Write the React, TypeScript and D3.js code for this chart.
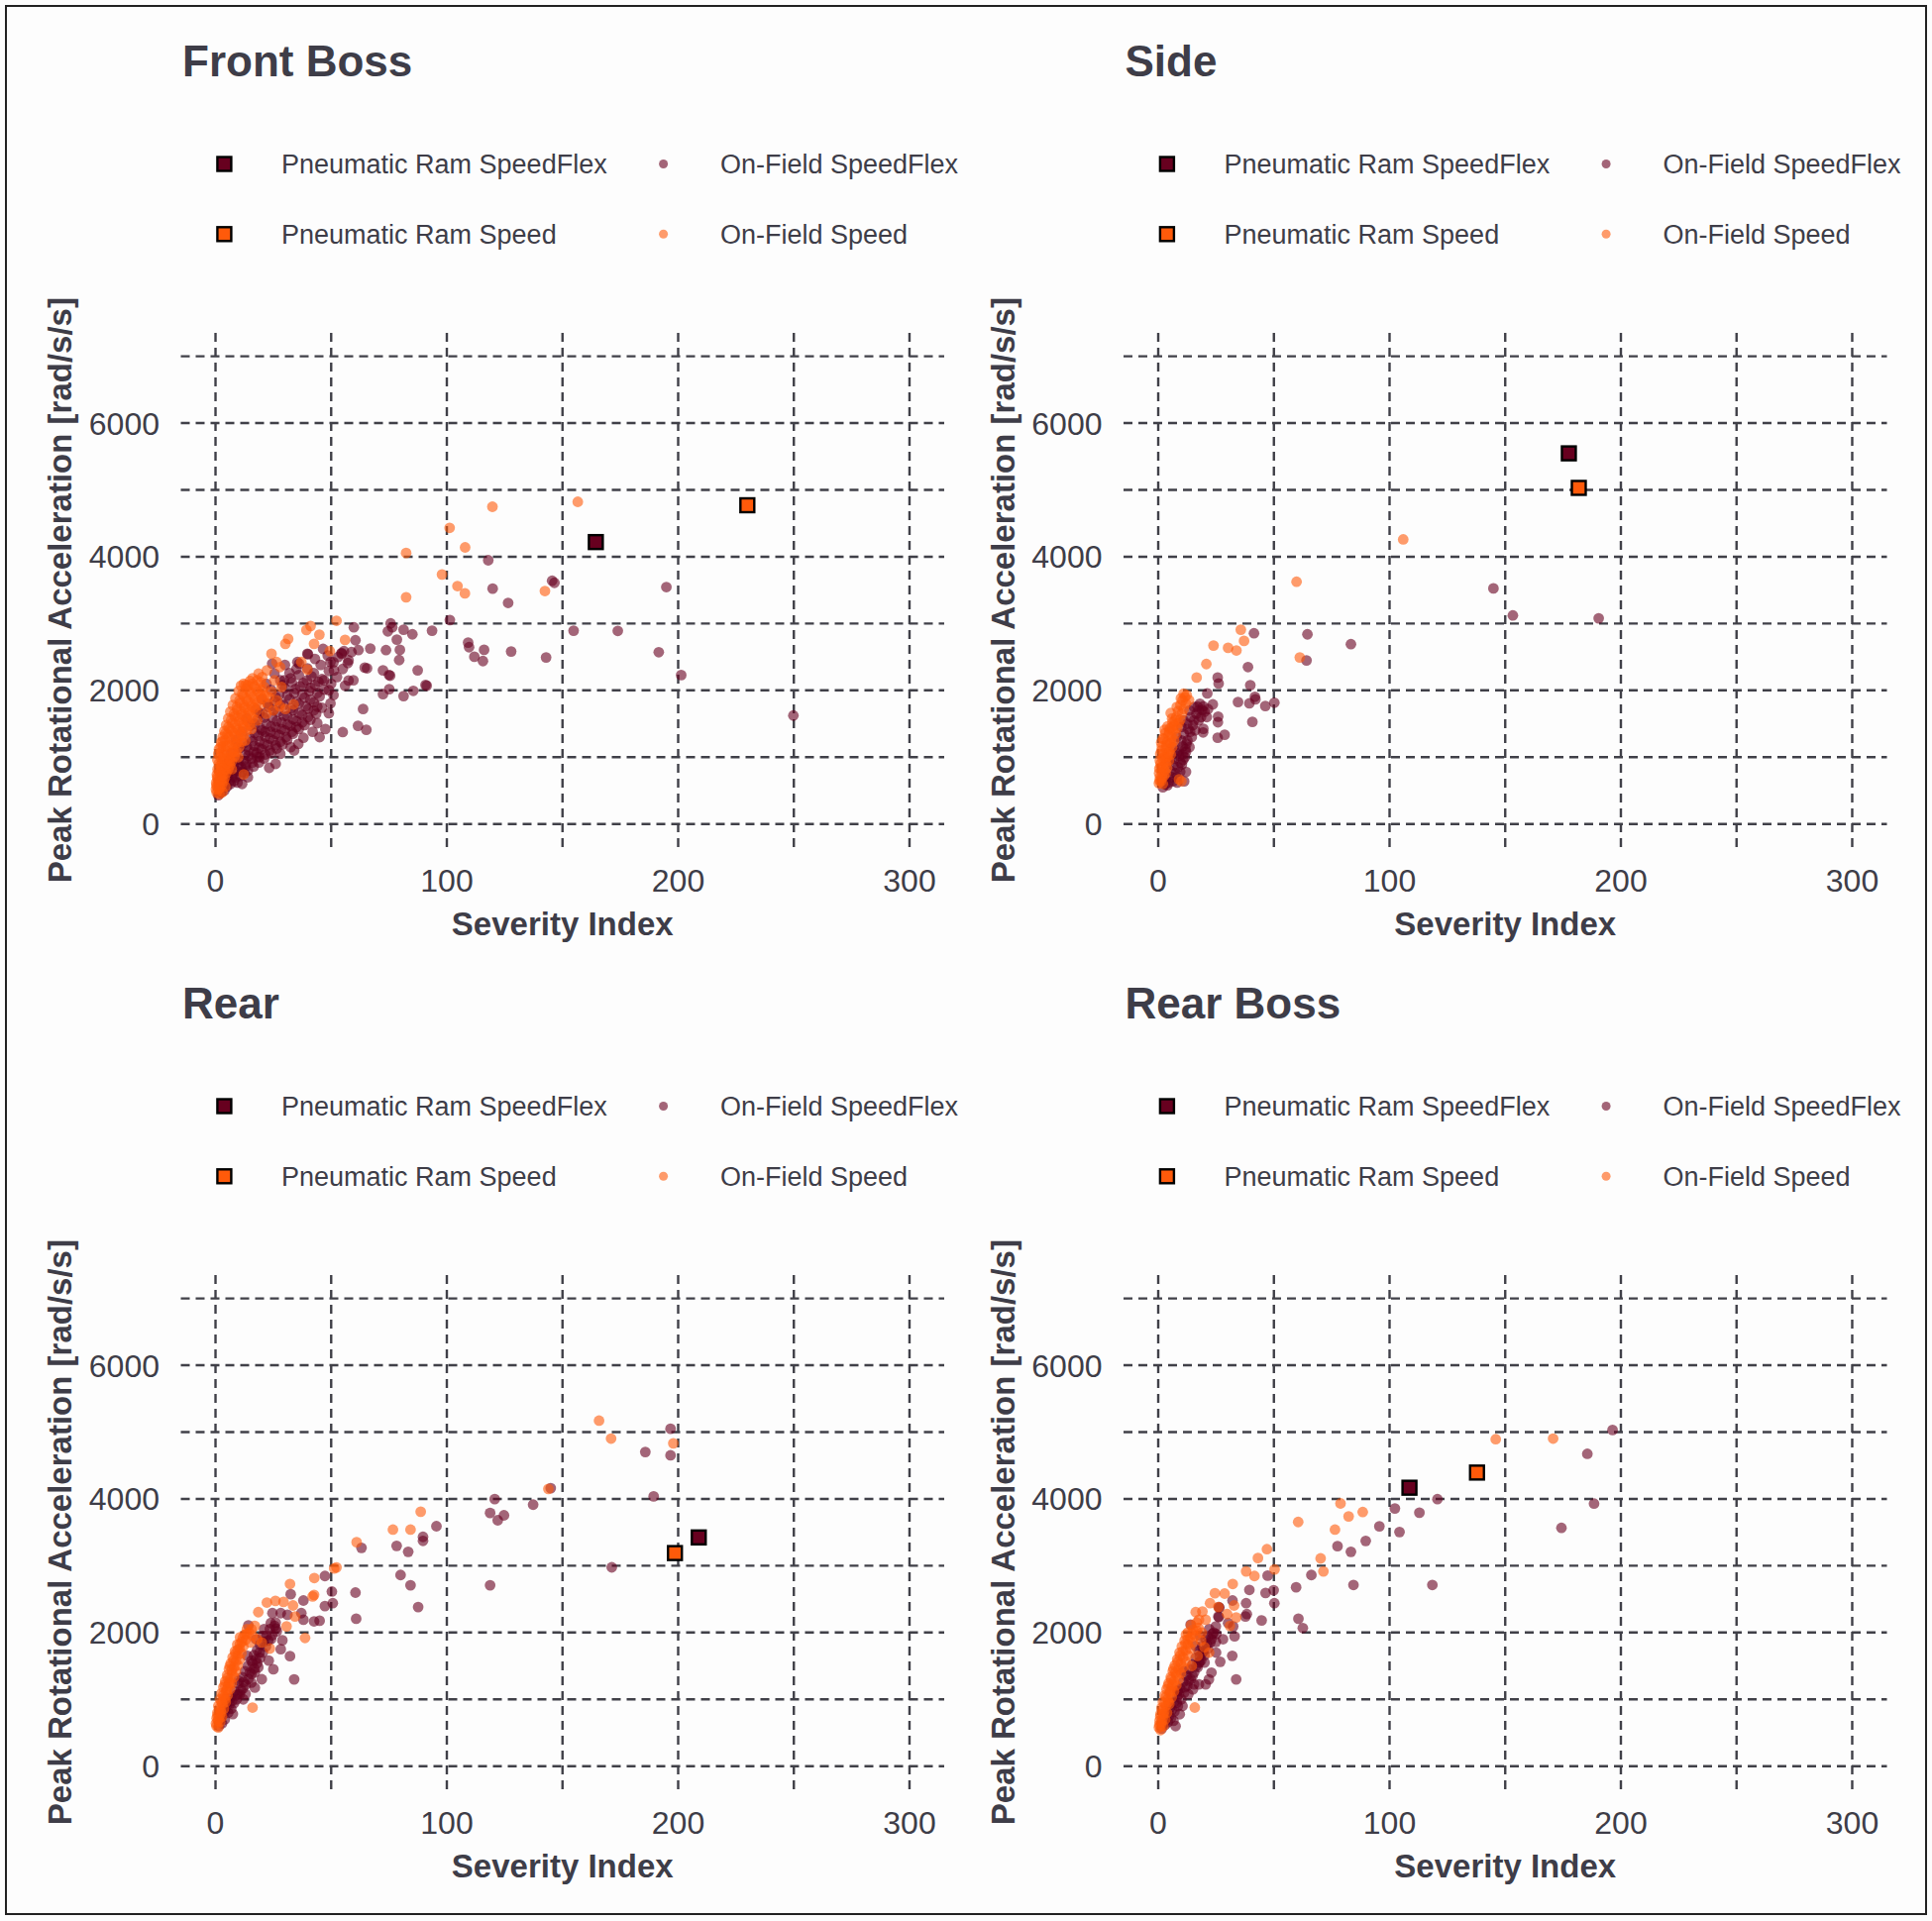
import React from 'react';
import * as d3 from 'd3';

type P = [number, number];

// ---------------- DATA ----------------
const panelTitles = ['Front Boss', 'Side', 'Rear', 'Rear Boss'];
const legendLabels = ['Pneumatic Ram SpeedFlex', 'Pneumatic Ram Speed', 'On-Field SpeedFlex', 'On-Field Speed'];
const xTicks = [0, 100, 200, 300];
const xGrid = [0, 50, 100, 150, 200, 250, 300];
const yTicks = [0, 2000, 4000, 6000];
const yGrid = [0, 1000, 2000, 3000, 4000, 5000, 6000, 7000];
const xLabel = 'Severity Index';
const yLabel = 'Peak Rotational Acceleration [rad/s/s]';

// Pneumatic ram impacts [severity index, peak rotational acceleration]
const ramSpeedFlex: P[] = [[164.4, 4219], [177.5, 5547], [208.9, 3423], [108.6, 4167]];
const ramSpeed: P[] = [[229.9, 4770], [181.8, 5030], [198.6, 3189], [137.8, 4394]];

// Front Boss on-field
const frontBossFlex: P[] = [
  [1.2,430],[2.5,470],[3.8,500],[1.8,540],[5.0,560],[6.5,600],[3.2,620],[8.0,640],[9.5,620],[4.6,680],[7.2,700],[10.8,720],[2.8,730],[12.5,760],[6.0,780],[9.0,800],[14.0,800],[4.2,830],[11.0,850],[16.5,860],[7.8,880],[13.2,900],[18.8,920],[5.5,920],[10.0,960],[15.5,980],[21.0,980],[23.2,841],[8.5,1010],[12.8,1040],[17.8,1060],[24.0,1060],[6.8,1060],[14.5,1100],[20.0,1120],[26.5,1130],[10.5,1140],[16.8,1170],[22.6,1180],[29.0,1190],[32.5,1150],[12.2,1210],[19.0,1240],[25.0,1250],[31.0,1260],[35.8,1197],[8.8,1250],[14.8,1290],[21.5,1310],[27.5,1330],[33.5,1350],[17.0,1360],[23.8,1380],[30.0,1400],[36.0,1420],[11.5,1380],[19.5,1430],[26.0,1450],[32.5,1470],[38.5,1480],[44.0,1508],[15.0,1470],[22.0,1500],[28.5,1520],[35.0,1540],[41.0,1560],[18.0,1560],[24.5,1590],[31.0,1610],[37.5,1630],[43.5,1650],[49.0,1657],[13.5,1580],[20.5,1650],[27.0,1680],[33.5,1700],[40.0,1720],[46.0,1740],[23.0,1750],[29.5,1780],[36.0,1800],[42.5,1820],[17.5,1720],[25.5,1840],[32.0,1870],[38.5,1890],[45.0,1910],[51.0,1930],[20.0,1870],[27.5,1930],[34.0,1960],[40.5,1990],[47.0,2010],[30.0,2030],[36.5,2060],[43.0,2080],[50.0,2100],[56.0,2070],[24.0,2010],[33.0,2120],[39.5,2150],[46.0,2170],[52.5,2200],[28.0,2150],[36.0,2230],[42.5,2260],[49.0,2290],[55.0,2320],[32.0,2260],[39.7,2330],[45.5,2380],[51.0,2420],[57.5,2450],[36.2,2400],[43.0,2470],[48.5,2520],[54.5,2560],[40.0,2540],[46.5,2620],[29.7,2150],[35.4,2424],[39.7,2547],[19.0,1000],[26.0,900],[14.0,700],[28.0,1050],[34.0,1100],[38.0,1290],[42.0,1380],[47.5,1420],[45.0,1300],[20.0,1400],[9.5,1150],[6.0,900],[11.5,600],
  [2.0,480],[3.5,550],[6.0,640],[8.8,700],[5.2,720],[11.5,780],[7.5,760],[13.0,860],[9.8,880],[16.0,920],[12.0,940],[18.0,1000],[14.2,1020],[21.5,1040],[16.5,1080],[23.5,1100],[18.8,1140],[26.0,1180],[13.5,1160],[21.0,1200],[28.0,1230],[16.0,1240],[23.5,1280],[30.5,1300],[18.5,1320],[26.0,1350],[33.0,1380],[21.5,1380],[28.5,1420],[35.0,1450],[24.0,1460],[31.0,1490],[37.5,1520],[17.0,1500],[26.5,1540],[33.5,1570],[40.0,1600],[21.0,1590],[29.5,1620],[36.0,1660],[42.5,1700],[25.0,1700],[32.5,1730],[39.0,1760],[19.0,1660],[28.0,1800],[35.0,1830],[41.0,1860],[22.5,1800],[31.0,1920],[37.5,1940],[44.0,1960],[26.0,1900],[34.5,2020],[41.0,2040],[29.0,2080],[38.0,2110],[44.5,2130],[32.5,2180],[41.5,2210],[35.0,2320],[30.0,2380],[25.5,2250],[22.0,2100],[24.5,2400],
  [54.5,2547],[55.5,2587],[57.2,2409],[58.8,2572],[49.7,2424],[51.2,2300],[46.9,2152],[49.0,2003],[49.7,1805],[44.0,1756],[53.0,2500],[60.5,2750],
  [117.9,3947],[119.8,3522],[126.5,3309],[145.5,3640],[146.5,3610],[154.8,2893],[101.3,3052],[109.2,2715],[109.6,2646],[116.1,2606],[127.8,2582],[111.9,2503],[115.6,2438],[142.9,2493],[93.6,2893],[85.1,2839],[81.3,2908],[75.7,3002],[74.5,2883],[76.4,2943],[78.4,2760],[79.7,2606],[79.4,2453],[73.7,2602],[66.9,2626],[59.8,2943],[61.8,2602],[64.5,2340],[65.5,2330],[72.4,2300],[75.0,2230],[75.5,2220],[87.4,2300],[75.1,2018],[72.4,1944],[81.3,1914],[85.5,1993],[90.8,2080],[91.3,2070],[63.8,1721],[61.6,1469],[65.2,1410],[55.0,1375],[57.5,2147],[59.6,2152],[194.9,3546],[173.9,2890],[191.6,2571],[201.3,2228],[249.8,1623]
];
const frontBossSpeed: P[] = [
  [0.5,470],[1.2,520],[0.8,560],[2.0,540],[1.5,600],[0.3,620],[2.8,590],[3.5,640],[1.0,680],[2.2,700],[4.0,690],[0.6,740],[1.8,760],[3.2,780],[4.6,760],[5.5,820],[0.9,820],[2.5,850],[3.9,870],[6.2,880],[1.4,900],[7.0,940],[2.9,930],[4.8,950],[0.8,960],[5.9,990],[8.2,1010],[1.9,1010],[3.6,1030],[6.8,1060],[9.0,1080],[2.6,1080],[4.5,1100],[7.6,1130],[10.2,1150],[1.5,1120],[3.3,1160],[5.7,1180],[8.8,1200],[11.3,1230],[2.4,1220],[4.2,1250],[6.6,1270],[9.7,1290],[12.0,1320],[3.1,1300],[5.2,1340],[7.9,1360],[10.6,1380],[13.5,1400],[3.8,1390],[6.1,1420],[9.0,1440],[11.8,1470],[14.8,1490],[4.6,1480],[7.2,1510],[10.1,1540],[13.0,1560],[16.0,1580],[5.5,1580],[8.3,1610],[11.2,1640],[14.2,1660],[17.5,1690],[6.4,1680],[9.4,1710],[12.5,1740],[15.6,1760],[19.0,1780],[7.5,1780],[10.6,1810],[13.8,1840],[17.0,1860],[20.5,1880],[8.6,1880],[12.0,1920],[15.2,1950],[18.4,1980],[10.0,1990],[13.4,2030],[16.8,2060],[20.0,2010],[12.2,2100],[14.9,2140],[11.0,2070],[22.5,1800],[25.0,1700],[27.8,1760],[30.2,1720],[33.8,1790],[21.3,1920],[24.2,1980],[19.6,2120],[22.0,1650],[18.0,1550],[15.5,1420],[12.8,1250],[9.8,1000],[7.0,820],[4.2,560],[3.0,480],[1.7,450],[0.2,520],
  [0.4,580],[1.1,640],[2.6,660],[0.7,700],[3.0,720],[1.5,800],[4.2,820],[2.1,880],[5.0,900],[3.4,980],[6.3,950],[1.2,1050],[5.2,1040],[7.8,1080],[2.2,1150],[4.8,1170],[7.2,1200],[9.5,1220],[3.0,1240],[5.8,1300],[8.4,1320],[11.0,1340],[4.2,1350],[7.0,1400],[9.8,1410],[12.6,1450],[5.6,1450],[8.6,1500],[11.4,1520],[14.0,1540],[6.8,1560],[9.8,1600],[12.8,1620],[15.2,1640],[8.0,1650],[11.0,1690],[14.0,1720],[16.8,1740],[9.2,1750],[12.2,1780],[15.0,1810],[18.2,1830],[10.4,1850],[13.2,1880],[16.4,1910],[19.5,1930],[11.6,1950],[14.6,1990],[17.6,2020],[13.0,2080],[16.0,2100],[18.0,2150],[21.0,2050],[23.0,1900],[26.5,1850],
  [20.2,2200],[18.6,2250],[25.5,2150],[28.5,2050],[16.0,2180],
  [52.3,3042],[41.1,2963],[39.3,2903],[44.9,2834],[42.6,2696],[31.4,2770],[30.2,2696],[56.0,2755],[49.4,2587],[24.2,2547],[26.4,2424],[27.9,2349],[37.1,2424],[39.7,2310],[22.2,2300],[13.9,2077],[12.2,742],[82.4,4056],[82.4,3393],[97.9,3734],[101.2,4432],[107.9,4140],[104.6,3561],[107.8,3452],[119.7,4748],[156.6,4822],[142.4,3487]
];

// Side on-field
const sideFlex: P[] = [
  [144.9,3526],[153.3,3121],[83.3,2691],[190.4,3078],[41.4,2854],[64.5,2839],[64.1,2448],[38.8,2349],[25.7,2191],[26.1,2102],[39.8,2077],[21.2,1954],[41.8,1904],[42.0,1865],[34.5,1825],[39.4,1805],[46.3,1766],[50.2,1815],[17.0,1756],[19.0,1706],[23.6,1790],[25.9,1607],[25.8,1523],[40.7,1528],[19.5,1424],[19.4,1370],[25.7,1291],[28.7,1335],
  [10.5,1162],[10.5,1039],[10.2,890],[11.2,638],[3.0,593],[2.0,550],[4.5,620],[6.0,700],[7.5,760],[5.2,800],[8.5,850],[9.6,920],[7.0,980],[11.5,1000],[12.0,1080],[9.0,1100],[13.5,1150],[12.6,1250],[14.5,1300],[11.0,1350],[16.0,1400],[15.0,1480],[17.5,1550],[18.5,1600],[16.5,1650],[20.0,1680],[14.0,1600],[12.5,1500],[10.0,1450],[8.0,1300],[6.5,1150],[5.0,950],[3.5,700],[9.0,1020],[11.8,1120],[13.0,1420],[21.5,1720],[18.0,1800],[15.5,1750],[8.2,620],[12.0,780],
  [4.0,580],[6.5,640],[8.0,700],[9.5,780],[6.5,880],[10.8,960],[8.0,1060],[12.2,1200],[10.0,1250],[13.8,1380],[15.5,1550],[17.5,1700],[19.5,1760],[21.0,1600],[13.5,1700],[11.0,1550]
];
const sideSpeed: P[] = [
  [0.3,610],[1.2,640],[2.0,600],[0.8,700],[2.5,720],[1.5,780],[3.2,760],[0.5,830],[2.2,860],[3.8,840],[1.0,900],[3.0,930],[4.6,950],[1.8,980],[4.0,1010],[5.4,1040],[2.5,1060],[0.9,1050],[4.8,1100],[3.3,1130],[6.0,1150],[1.6,1160],[5.2,1200],[3.9,1230],[6.8,1250],[2.4,1270],[5.8,1300],[4.4,1330],[7.5,1350],[3.0,1360],[6.5,1400],[5.0,1430],[8.2,1440],[7.0,1480],[4.0,1460],[8.8,1510],[6.2,1520],[9.5,1560],[7.8,1600],[10.2,1650],[8.6,1690],[11.0,1720],[9.6,1780],[12.0,1800],[10.5,1850],[11.5,1900],[6.0,1580],[3.6,1000],[1.3,1220],[2.8,1410],
  [0.6,650],[1.6,690],[0.4,760],[2.8,800],[1.2,850],[3.4,900],[0.7,950],[2.4,1000],[4.4,1060],[1.4,1100],[3.6,1180],[5.6,1220],[2.0,1280],[4.8,1380],[6.0,1450],[7.2,1550],[8.0,1750],[9.8,1880],[11.0,1950],[5.4,1660],
  [105.9,4259],[59.8,3625],[35.7,2908],[37.1,2740],[23.9,2671],[30.2,2636],[33.8,2597],[61.2,2493],[20.8,2394],[16.6,2191],[12.3,1929],[13.3,1855],[9.0,668],[10.0,640]
];

// Rear on-field
const rearFlex: P[] = [
  [196.7,5049],[185.8,4702],[196.7,4652],[144.9,4161],[137.3,3914],[120.7,3997],[118.7,3789],[122.0,3680],[124.7,3754],[189.4,4037],[171.3,2976],[118.7,2708],[95.5,3591],[89.7,3432],[89.7,3372],[83.3,3208],[78.3,3297],[80.0,2861],[84.3,2708],[87.6,2381],[63.1,3267],[47.3,2846],[50.3,2613],[50.7,2439],[60.5,2598],[60.8,2206],[32.5,2573],[38.0,2479],[37.1,2290],[38.0,2191],[42.6,2167],[45.0,2177],[47.3,2395],[31.1,2266],[28.2,2290],[24.6,2290],[14.2,2107],[23.9,2142],[26.1,2058],[26.5,2018],[28.9,1884],[28.2,1750],[32.2,1646],[34.0,1299],[17.0,1175],[9.6,1076],
  [1.5,600],[2.8,640],[4.0,700],[3.0,760],[5.5,800],[6.8,860],[4.8,900],[8.0,940],[9.2,1000],[6.5,1020],[10.5,1080],[8.2,1120],[11.8,1160],[13.0,1220],[9.8,1240],[14.2,1300],[11.5,1330],[15.5,1380],[12.8,1420],[16.8,1460],[14.0,1500],[18.0,1540],[15.5,1580],[19.2,1620],[16.6,1660],[20.5,1700],[18.0,1740],[21.8,1790],[19.2,1820],[22.8,1880],[17.5,1900],[20.5,1950],[24.5,1960],[21.0,2050],[25.5,2100],[12.0,1000],[7.5,780],[10.0,1280],[13.8,1650],[23.0,1580],[25.0,1450],[20.0,1300],[17.0,1400],[24.0,1900],[26.0,2150],
  [2.2,700],[4.0,820],[6.0,920],[7.2,980],[9.0,1060],[11.0,1140],[12.2,1260],[14.8,1400],[16.0,1540],[17.5,1600],[19.0,1700],[20.8,1860],[22.0,1950],[23.5,2050],[18.5,1480],[15.5,1250],[13.0,1080]
];
const rearSpeed: P[] = [
  [0.2,640],[1.0,680],[2.0,660],[0.5,720],[1.8,760],[2.8,740],[0.8,800],[2.2,840],[3.6,860],[1.2,900],[3.0,930],[4.4,960],[1.9,1000],[3.8,1030],[5.2,1060],[2.6,1090],[4.6,1120],[6.2,1150],[3.4,1180],[5.5,1210],[7.0,1240],[4.2,1270],[6.3,1300],[8.0,1330],[5.0,1360],[7.2,1390],[8.8,1420],[5.8,1450],[8.0,1480],[9.6,1510],[6.6,1540],[8.8,1570],[10.5,1600],[7.4,1630],[9.6,1660],[11.2,1690],[8.4,1720],[10.4,1760],[12.0,1790],[9.4,1820],[11.4,1860],[13.0,1890],[10.6,1930],[12.6,1970],[14.5,2000],[13.6,2050],[16.0,1950],[18.0,1900],[15.0,1850],[20.0,1850],[23.5,1760],[1.2,580],
  [0.4,600],[1.4,700],[0.9,760],[2.4,800],[1.6,860],[2.6,960],[4.2,1000],[3.2,1060],[5.0,1150],[4.0,1220],[6.0,1250],[5.2,1320],[7.0,1440],[6.2,1500],[7.8,1580],[8.6,1680],[9.6,1740],[10.6,1830],[11.8,1920],[13.5,1980],[15.5,2050],[17.0,2100],
  [165.8,5171],[171.0,4903],[197.9,4832],[143.9,4150],[88.7,3808],[76.7,3540],[84.3,3540],[61.0,3352],[51.3,2960],[52.3,2975],[42.7,2816],[32.2,2727],[42.6,2563],[42.0,2540],[22.2,2449],[25.9,2474],[29.4,2459],[18.5,2305],[33.5,2405],[34.4,2241],[30.7,2092],[38.7,1919],[16.0,877]
];

// Rear Boss on-field
const rearBossFlex: P[] = [
  [196.4,5031],[185.5,4674],[188.4,3929],[174.3,3566],[120.7,3996],[102.3,3857],[112.9,3793],[104.3,3505],[95.6,3590],[89.7,3371],[83.3,3208],[77.5,3292],[66.2,2861],[59.6,2677],[84.4,2712],[118.5,2712],[47.3,2851],[49.9,2633],[50.2,2439],[46.4,2593],[44.7,2181],[60.6,2206],[62.5,2067],[39.4,2638],[38.0,2439],[38.3,2276],[37.7,2241],[32.1,2479],[26.2,2380],[26.4,2370],[26.2,2231],[26.0,2240],[30.2,2142],[32.4,2092],[33.0,1944],[24.9,2092],[25.1,1978],[24.9,1859],[21.5,1944],[32.0,1651],[26.8,1562],[33.7,1299],[14.0,2117],[17.6,1547],[17.8,1560],[19.1,1696],[21.9,1299],[20.5,1225],[17.6,1225],[15.5,1225],[13.0,1076],[9.3,778],[6.6,679],[8.3,1130],[8.5,1120],
  [1.5,560],[3.0,620],[4.2,660],[5.5,720],[3.5,780],[7.0,820],[5.2,880],[8.5,900],[6.8,960],[10.0,1000],[8.2,1040],[11.2,1100],[9.5,1160],[12.5,1200],[10.8,1260],[14.0,1300],[12.2,1350],[15.5,1400],[13.5,1450],[17.0,1480],[14.8,1520],[18.5,1580],[16.2,1620],[20.0,1660],[17.5,1720],[21.5,1760],[19.0,1800],[22.5,1850],[20.5,1900],[23.5,1980],[22.0,2050],[18.0,1950],[11.0,1420],[16.0,1800],[25.0,1700],[28.0,1900],[23.0,1400],[10.5,900],[7.5,600],
  [2.5,640],[4.8,760],[6.0,850],[8.0,950],[9.0,1080],[11.5,1180],[13.2,1280],[14.8,1350],[16.5,1500],[18.0,1650],[19.5,1720],[21.0,1820],[23.0,1900],[24.0,2000],[20.0,1550],[15.0,1150]
];
const rearBossSpeed: P[] = [
  [0.3,580],[1.2,620],[2.2,600],[0.6,680],[1.9,720],[3.0,700],[1.0,780],[2.6,820],[3.8,800],[1.4,870],[3.2,900],[4.8,930],[2.0,960],[4.0,1000],[5.8,1030],[2.8,1060],[4.9,1090],[6.8,1120],[3.6,1150],[5.8,1180],[7.8,1210],[4.5,1240],[6.8,1270],[8.8,1300],[5.4,1330],[7.8,1360],[9.8,1390],[6.3,1420],[8.8,1450],[10.8,1480],[7.2,1510],[9.8,1540],[11.8,1570],[8.2,1600],[10.8,1630],[12.8,1660],[9.2,1700],[11.8,1730],[13.8,1760],[10.2,1790],[12.8,1820],[14.8,1850],[11.4,1880],[13.8,1920],[16.0,1950],[12.8,2000],[15.0,2040],[17.4,2070],[14.2,2110],[16.6,2150],[18.5,1880],[20.0,1780],[22.0,1700],[17.0,1650],[14.5,1500],[1.0,540],
  [0.5,620],[1.5,660],[0.9,740],[2.2,780],[1.8,840],[2.8,940],[4.4,960],[3.4,1040],[5.2,1120],[4.2,1200],[6.2,1220],[5.6,1300],[7.4,1400],[6.6,1460],[8.4,1560],[9.4,1650],[10.6,1720],[11.8,1830],[12.8,1900],[14.8,1980],[16.6,2030],[18.8,2000],
  [145.9,4893],[170.7,4903],[78.8,3932],[82.3,3738],[88.4,3803],[60.5,3654],[76.4,3540],[47.0,3247],[43.1,3114],[70.2,3109],[71.4,2915],[50.3,2945],[38.0,2915],[41.6,2846],[32.2,2727],[24.5,2588],[28.7,2583],[22.4,2439],[32.8,2405],[33.7,2226],[29.8,2276],[16.2,2305],[19.1,2315],[17.6,2191],[20.5,2191],[12.0,1968],[15.8,878],[26.0,2380],[31.0,2100]
];

const flexSets = [frontBossFlex, sideFlex, rearFlex, rearBossFlex];
const speedSets = [frontBossSpeed, sideSpeed, rearSpeed, rearBossSpeed];

// ---------------- STYLE ----------------
const W = 1950, H = 1939;
const COL_OFF = 951.5, ROW_OFF = 951;
const MAROON = '#67001f';
const ORANGE = '#ff5a0a';
const TEXT = '#3e3d48';
const GRID = '#404048';
const FONT = '"Liberation Sans", Arial, Helvetica, sans-serif';
const PT_R = 5.4;
const PT_OP = 0.6;
const SQ = 14;

const x = d3.scaleLinear().domain([-15, 315]).range([182.5, 953]);
const y = d3.scaleLinear().domain([-350, 7350]).range([855.3, 336]);

function Square({ cx, cy, fill }: { cx: number; cy: number; fill: string }) {
  return <rect x={cx - SQ / 2} y={cy - SQ / 2} width={SQ} height={SQ} fill={fill} stroke="#000" strokeWidth={2.4} />;
}

function Panel({ idx }: { idx: number }) {
  const col = idx % 2, row = Math.floor(idx / 2);
  const flex = flexSets[idx], speed = speedSets[idx];
  const [x0, x1] = x.range();
  const [yb, yt] = y.range();
  return (
    <g transform={`translate(${col * COL_OFF},${row * ROW_OFF})`}>
      <text x={184} y={77} fontSize={44} fontWeight="bold" fill={TEXT}>{panelTitles[idx]}</text>
      {/* legend */}
      <g fontSize={27} fill={TEXT}>
        <Square cx={226.4} cy={165.5} fill={MAROON} />
        <text x={284} y={165.5} dy="0.36em">{legendLabels[0]}</text>
        <Square cx={226.4} cy={236.3} fill={ORANGE} />
        <text x={284} y={236.3} dy="0.36em">{legendLabels[1]}</text>
        <circle cx={669.6} cy={165.5} r={4.5} fill={MAROON} fillOpacity={PT_OP} />
        <text x={727} y={165.5} dy="0.36em">{legendLabels[2]}</text>
        <circle cx={669.6} cy={236.3} r={4.5} fill={ORANGE} fillOpacity={PT_OP} />
        <text x={727} y={236.3} dy="0.36em">{legendLabels[3]}</text>
      </g>
      {/* grid */}
      <g stroke={GRID} strokeWidth={2.4} strokeDasharray="9 6" fill="none">
        {yGrid.map(v => <line key={'h' + v} x1={x0} x2={x1} y1={y(v)} y2={y(v)} />)}
        {xGrid.map(v => <line key={'v' + v} x1={x(v)} x2={x(v)} y1={yt} y2={yb} />)}
      </g>
      {/* tick labels */}
      <g fontSize={32} fill={TEXT}>
        {yTicks.map(v => <text key={'yt' + v} x={161} y={y(v)} dy="0.36em" textAnchor="end">{v}</text>)}
        {xTicks.map(v => <text key={'xt' + v} x={x(v)} y={900} textAnchor="middle">{v}</text>)}
      </g>
      <text x={(x0 + x1) / 2} y={944} fontSize={33} fontWeight="bold" fill={TEXT} textAnchor="middle">{xLabel}</text>
      <text transform={`translate(72,${(yb + yt) / 2}) rotate(-90)`} fontSize={33} fontWeight="bold" fill={TEXT} textAnchor="middle">{yLabel}</text>
      {/* points */}
      <g fill={MAROON} fillOpacity={PT_OP}>
        {flex.map((d, i) => <circle key={'f' + i} cx={x(d[0])} cy={y(d[1])} r={PT_R} />)}
      </g>
      <g fill={ORANGE} fillOpacity={PT_OP}>
        {speed.map((d, i) => <circle key={'s' + i} cx={x(d[0])} cy={y(d[1])} r={PT_R} />)}
      </g>
      <Square cx={x(ramSpeedFlex[idx][0])} cy={y(ramSpeedFlex[idx][1])} fill={MAROON} />
      <Square cx={x(ramSpeed[idx][0])} cy={y(ramSpeed[idx][1])} fill={ORANGE} />
    </g>
  );
}

export default function App() {
  return (
    <div style={{ position: 'absolute', left: 0, top: 0 }}>
      <svg width={W} height={H} viewBox={`0 0 ${W} ${H}`} style={{ display: 'block', fontFamily: FONT }}>
        <rect x={0} y={0} width={W} height={H} fill="#fdfdfd" />
        <rect x={6} y={6} width={W - 12} height={H - 13} fill="none" stroke="#222" strokeWidth={2} />
        {panelTitles.map((_, i) => <Panel key={i} idx={i} />)}
      </svg>
    </div>
  );
}
